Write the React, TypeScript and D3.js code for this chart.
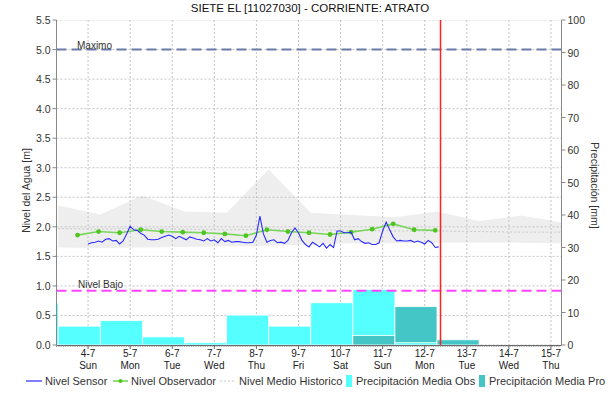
import React from "react";
import * as d3 from "d3";

const title = "SIETE EL [11027030] - CORRIENTE: ATRATO";

// sensor level [m], every 2 h starting 4-7 00:00
const sensorStart = new Date(2021, 6, 4, 0);
const sensorValues = [
  1.71, 1.73, 1.74, 1.76, 1.74, 1.79, 1.8, 1.76, 1.77, 1.71, 1.76, 1.88,
  2.01, 1.95, 1.94, 1.89, 1.86, 1.79, 1.78, 1.78, 1.79, 1.82, 1.84, 1.86,
  1.84, 1.8, 1.84, 1.81, 1.78, 1.83, 1.81, 1.79, 1.78, 1.76, 1.8, 1.76,
  1.78, 1.73, 1.8, 1.75, 1.77, 1.74, 1.75, 1.75, 1.74, 1.73, 1.73, 1.74,
  1.86, 2.18, 1.88, 1.74, 1.77, 1.78, 1.73, 1.74, 1.72, 1.77, 1.9, 1.98,
  1.9, 1.77, 1.7, 1.66, 1.74, 1.7, 1.66, 1.72, 1.64, 1.7, 1.65, 1.93,
  1.93, 1.9, 1.9, 1.91, 1.78, 1.8, 1.75, 1.72, 1.73, 1.7, 1.7, 1.73,
  1.93, 2.08, 1.95, 1.83, 1.76, 1.77, 1.76, 1.76, 1.77, 1.74, 1.76, 1.74,
  1.71, 1.77, 1.73, 1.65, 1.66,
];

// observer readings [m], every 12 h starting 3-7 18:00
const obsStart = new Date(2021, 6, 3, 18);
const observerValues = [
  1.86, 1.92, 1.9, 1.95, 1.92, 1.91, 1.9, 1.88, 1.85, 1.95, 1.92, 1.9, 1.87,
  1.91, 1.96, 2.05, 1.95, 1.94,
];

// historic band [m], daily at 07:00 starting 3-7
const histStart = new Date(2021, 6, 3, 7);
const histUpper = [2.36, 2.21, 2.53, 2.26, 2.24, 2.97, 2.24, 2.2, 2.16, 2.26, 2.1, 2.19, 2.07];
const histLower = [1.65, 1.64, 1.65, 1.66, 1.67, 1.68, 1.7, 1.72, 1.72, 1.73, 1.73, 1.73, 1.72];
const histMean = [1.97, 1.96, 1.97, 1.96, 1.95, 1.96, 1.95, 1.94, 1.93, 1.93, 1.92, 1.91, 1.91];

// precipitation [mm], daily bins 07:00 -> 07:00
const precipObsStart = new Date(2021, 6, 2, 7);
const precipObs = [12.9, 5.8, 7.5, 2.5, 0.7, 9.2, 5.8, 13.0, 17.1, 0.7];
const precipProStart = new Date(2021, 6, 10, 7);
const precipPro = [2.9, 11.8, 1.6];

const nivelMaximo = 5.0;
const nivelBajo = 0.92;
const nowTime = new Date(2021, 6, 12, 9);

const levelTicks = d3.range(0, 5.51, 0.5);
const precipTicks = d3.range(0, 101, 10);
const dayTicks = d3.timeDay.range(new Date(2021, 6, 4), new Date(2021, 6, 16));

const HOUR = 3600 * 1000;
const FONT = "'Liberation Sans', Arial, sans-serif";

export default function App() {
  const left = 56.5, right = 561.5, top = 20, bottom = 345;
  const x = d3.scaleTime().domain([new Date(2021, 6, 3, 6), new Date(2021, 6, 15, 6)]).range([left, right]);
  const yL = d3.scaleLinear().domain([0, 5.5]).range([bottom, top]);
  const yR = d3.scaleLinear().domain([0, 100]).range([bottom, top]);

  const sensor = sensorValues.map((v, i) => ({ t: new Date(+sensorStart + i * 2 * HOUR), v }));
  const observer = observerValues.map((v, i) => ({ t: new Date(+obsStart + i * 12 * HOUR), v }));
  const hist = histUpper.map((u, i) => ({ t: new Date(+histStart + i * 24 * HOUR), u, l: histLower[i], m: histMean[i] }));

  const line = d3.line<any>().x((d) => x(d.t)).y((d) => yL(d.v));
  const band = d3.area<any>().x((d) => x(d.t)).y0((d) => yL(d.l)).y1((d) => yL(d.u));
  const meanLine = d3.line<any>().x((d) => x(d.t)).y((d) => yL(d.m));

  // one entry per day bin, bigger bar first so the smaller stays visible
  const bars: any[] = [];
  precipObs.forEach((v, i) => {
    const t0 = new Date(+precipObsStart + i * 24 * HOUR);
    bars.push({ t0, t1: new Date(+t0 + 24 * HOUR), v, fill: "#55ffff" });
  });
  precipPro.forEach((v, i) => {
    const t0 = new Date(+precipProStart + i * 24 * HOUR);
    bars.push({ t0, t1: new Date(+t0 + 24 * HOUR), v, fill: "#45c6c6" });
  });
  bars.sort((a, b) => +a.t0 - +b.t0 || b.v - a.v);

  const fmtDay = d3.timeFormat("%-d-%-m");
  const fmtWk = d3.timeFormat("%a");
  const minorTicks = d3.timeHour.every(1)!.range(x.domain()[0], x.domain()[1]);

  const legendY = 381;

  return (
    <svg width={616} height={405} style={{ position: "absolute", left: 0, top: 0, background: "#fff" }} fontFamily={FONT}>
      <defs>
        <clipPath id="plot">
          <rect x={left} y={top} width={right - left} height={bottom - top} />
        </clipPath>
      </defs>
      <rect width={616} height={405} fill="#fff" />
      <text x={310} y={12} textAnchor="middle" fontSize={11.5} fill="#111">{title}</text>

      <g clipPath="url(#plot)">
        <path d={band(hist)!} fill="#eeeeee" />
        {levelTicks.map((v) => (
          <line key={"h" + v} x1={left} x2={right} y1={yL(v)} y2={yL(v)} stroke="#c4c4c4" strokeDasharray="2,2" />
        ))}
        {dayTicks.map((d) => (
          <line key={"v" + +d} x1={x(d)} x2={x(d)} y1={top} y2={bottom} stroke="#c4c4c4" strokeDasharray="2,2" />
        ))}
        <path d={meanLine(hist)!} fill="none" stroke="#c8c8c8" strokeDasharray="2,2" />
        {bars.map((b, i) => (
          <rect key={"b" + i} x={x(b.t0)} y={yR(b.v)} width={x(b.t1) - x(b.t0)} height={bottom - yR(b.v)}
            fill={b.fill} stroke="#ffffff" strokeWidth={0.8} />
        ))}
        <line x1={left} x2={right} y1={yL(nivelMaximo)} y2={yL(nivelMaximo)} stroke="#6b7aa6" strokeWidth={2} strokeDasharray="10,5" />
        <line x1={left} x2={right} y1={yL(nivelBajo)} y2={yL(nivelBajo)} stroke="#ff44ff" strokeWidth={2} strokeDasharray="10,5" />
        <path d={line(observer)!} fill="none" stroke="#7ad55a" strokeWidth={1.6} />
        {observer.map((d, i) => (
          <circle key={"o" + i} cx={x(d.t)} cy={yL(d.v)} r={2.4} fill="#4cc61e" />
        ))}
        <path d={line(sensor)!} fill="none" stroke="#2b2bff" strokeWidth={1.1} />
        <line x1={x(nowTime)} x2={x(nowTime)} y1={top} y2={bottom} stroke="#ff2222" strokeWidth={1.5} />
      </g>

      <text x={77} y={49} fontSize={10} fill="#333">Maximo</text>
      <text x={78} y={288} fontSize={10} fill="#333">Nivel Bajo</text>

      {/* left axis */}
      <line x1={left} x2={left} y1={top} y2={bottom} stroke="#888" />
      {levelTicks.map((v) => (
        <g key={"lt" + v}>
          <line x1={left - 4} x2={left} y1={yL(v)} y2={yL(v)} stroke="#888" />
          <text x={left - 6} y={yL(v) + 4} textAnchor="end" fontSize={10.5} fill="#333">{v.toFixed(1)}</text>
        </g>
      ))}
      <text transform={`translate(30,${(top + bottom) / 2 + 8}) rotate(-90)`} textAnchor="middle" fontSize={10.5} fill="#333">Nivel del Agua [m]</text>

      {/* right axis */}
      <line x1={right} x2={right} y1={top} y2={bottom} stroke="#888" />
      {precipTicks.map((v) => (
        <g key={"rt" + v}>
          <line x1={right} x2={right + 4} y1={yR(v)} y2={yR(v)} stroke="#888" />
          <text x={right + 6} y={yR(v) + 4} fontSize={10.5} fill="#333">{v}</text>
        </g>
      ))}
      <text transform={`translate(591,${(top + bottom) / 2 + 3}) rotate(90)`} textAnchor="middle" fontSize={10.5} fill="#333">Precipitación [mm]</text>

      {/* bottom axis */}
      <line x1={left} x2={right} y1={bottom + 0.5} y2={bottom + 0.5} stroke="#666" />
      {minorTicks.map((d) => (
        <line key={"m" + +d} x1={x(d)} x2={x(d)} y1={bottom} y2={bottom + 2} stroke="#777" strokeWidth={0.6} />
      ))}
      {dayTicks.map((d) => (
        <g key={"xt" + +d}>
          <line x1={x(d)} x2={x(d)} y1={bottom} y2={bottom + 4} stroke="#666" />
          <text x={x(d)} y={357} textAnchor="middle" fontSize={10} fill="#222">{fmtDay(d)}</text>
          <text x={x(d)} y={369} textAnchor="middle" fontSize={10} fill="#222">{fmtWk(d)}</text>
        </g>
      ))}

      {/* legend */}
      <g fontSize={11} fill="#333">
        <line x1={26} x2={42} y1={legendY} y2={legendY} stroke="#2b2bff" strokeWidth={1.2} />
        <text x={45} y={legendY + 4}>Nivel Sensor</text>
        <line x1={113} x2={128} y1={legendY} y2={legendY} stroke="#7ad55a" strokeWidth={1.6} />
        <circle cx={120.5} cy={legendY} r={2} fill="#4cc61e" />
        <text x={131} y={legendY + 4}>Nivel Observador</text>
        <line x1={220} x2={235} y1={legendY} y2={legendY} stroke="#c8c8c8" strokeDasharray="2,2" />
        <text x={239} y={legendY + 4}>Nivel Medio Historico</text>
        <rect x={346} y={legendY - 6} width={6} height={12} fill="#55ffff" />
        <text x={356} y={legendY + 4}>Precipitación Media Obs</text>
        <rect x={479} y={legendY - 6} width={6} height={12} fill="#45c6c6" />
        <text x={489} y={legendY + 4}>Precipitación Media Pro</text>
      </g>
    </svg>
  );
}
